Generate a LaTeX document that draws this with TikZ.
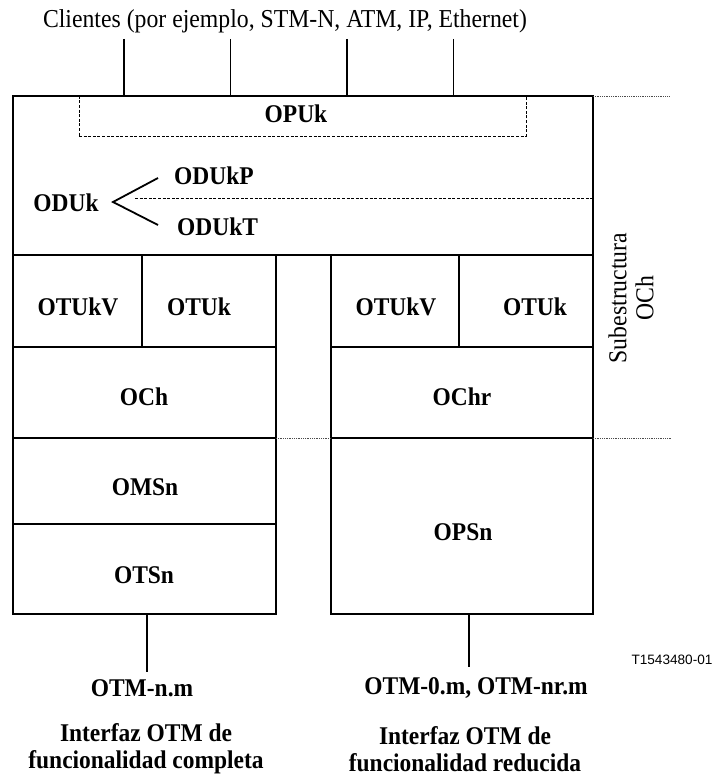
\documentclass[tikz,border=0pt]{standalone}
\usepackage{fontspec}
\setmainfont{Liberation Serif}
\newfontfamily\narrowserif[FakeStretch=0.92]{Liberation Serif}
\newfontfamily\codefont{Liberation Sans}
\begin{document}
\begin{tikzpicture}[x=1pt,y=-1pt,
  box/.style={draw, line width=1.4pt, inner sep=0pt, outer sep=0pt},
  dashbox/.style={draw, line width=0.9pt, dash pattern=on 3pt off 1.6pt, inner sep=0pt, outer sep=0pt},
  lab/.style={font=\narrowserif\fontsize{25.5}{27}\selectfont\bfseries, inner sep=0pt},
  plain/.style={font=\narrowserif\fontsize{25.8}{27}\selectfont, inner sep=0pt},
  conn/.style={line width=1.1pt},
  ext/.style={line width=0.8pt, dash pattern=on 1pt off 0.8pt, black!70}]
\useasboundingbox (0,0) rectangle (714,776);
% title
\node[plain] (clients) at (285,21) {Clientes (por ejemplo, STM-N, ATM, IP, Ethernet)};
% top box
\node[box, minimum width=580pt, minimum height=159pt] (top) at (303,175.5) {};
\node[dashbox, minimum width=447pt, minimum height=40pt] (opuk) at (302.5,116) {};
\node[lab] (opukl) at (296,114) {OPUk};
% client lines
\coordinate (c1) at (124,39);
\coordinate (c2) at (230.5,39);
\coordinate (c3) at (347,39);
\coordinate (c4) at (453.5,39);
\foreach \c in {c1,c2,c3,c4} \draw[conn] (\c) -- (\c |- top.north);
% ODUk
\node[lab] (oduk) at (66,203) {ODUk};
\node[lab, anchor=west] (odukp) at (174,176) {ODUkP};
\node[lab, anchor=west] (odukt) at (177,227) {ODUkT};
\coordinate (vtx) at (113,202);
\coordinate (armA) at (158,178);
\coordinate (armB) at (158,225);
\draw[line width=1.8pt] (armA) -- (vtx) -- (armB);
\coordinate (dstart) at (135,198);
\draw[dashbox] (dstart) -- (dstart -| top.east);
% left column cells
\node[box, minimum width=129pt, minimum height=92pt] (otukvL) at (77.5,301) {};
\node[box, minimum width=134pt, minimum height=92pt] (otukL) at (209,301) {};
\node[box, minimum width=263pt, minimum height=91pt] (och) at (144.5,392.5) {};
\node[box, minimum width=263pt, minimum height=86pt] (omsn) at (144.5,481) {};
\node[box, minimum width=263pt, minimum height=90pt] (otsn) at (144.5,569) {};
% right column cells
\node[box, minimum width=128pt, minimum height=92pt] (otukvR) at (395,301) {};
\node[box, minimum width=134pt, minimum height=92pt] (otukR) at (526,301) {};
\node[box, minimum width=262pt, minimum height=91pt] (ochr) at (462,392.5) {};
\node[box, minimum width=262pt, minimum height=176pt] (opsn) at (462,526) {};
% cell labels
\node[lab] (l1) at (78,307) {OTUkV};
\node[lab] (l2) at (199,307) {OTUk};
\node[lab] (l3) at (396,307) {OTUkV};
\node[lab] (l4) at (535,307) {OTUk};
\node[lab] (l5) at (144,397) {OCh};
\node[lab] (l6) at (462,397) {OChr};
\node[lab] (l7) at (145,487) {OMSn};
\node[lab] (l8) at (144,575) {OTSn};
\node[lab] (l9) at (463,532) {OPSn};
% dotted extension lines
\coordinate (e1) at (670,96);
\draw[ext] (top.north east) -- (e1);
\coordinate (e2) at (671,438);
\draw[ext] (och.south east) -- (ochr.south west);
\draw[ext] (ochr.south east) -- (e2);
% substructure label
\node[plain, rotate=90, align=center] (sub) at (631,298) {Subestructura\\OCh};
% bottom
\coordinate (b1) at (147,672);
\coordinate (b2) at (469,667);
\draw[conn] (b1 |- otsn.south) -- (b1);
\draw[conn] (b2 |- opsn.south) -- (b2);
\node[lab] (otmn) at (142,688) {OTM-n.m};
\node[lab] (otm0) at (476,688) {OTM-0.m, OTM-nr.m};
\node[lab, align=center] (ifL) at (146,749) {Interfaz OTM de\\funcionalidad completa};
\node[lab, align=center] (ifR) at (465,749) {Interfaz OTM de\\funcionalidad reducida};
\node[font=\codefont\fontsize{13.6}{16}\selectfont, inner sep=0pt] (code) at (672,660) {T1543480-01};
\end{tikzpicture}
\end{document}
